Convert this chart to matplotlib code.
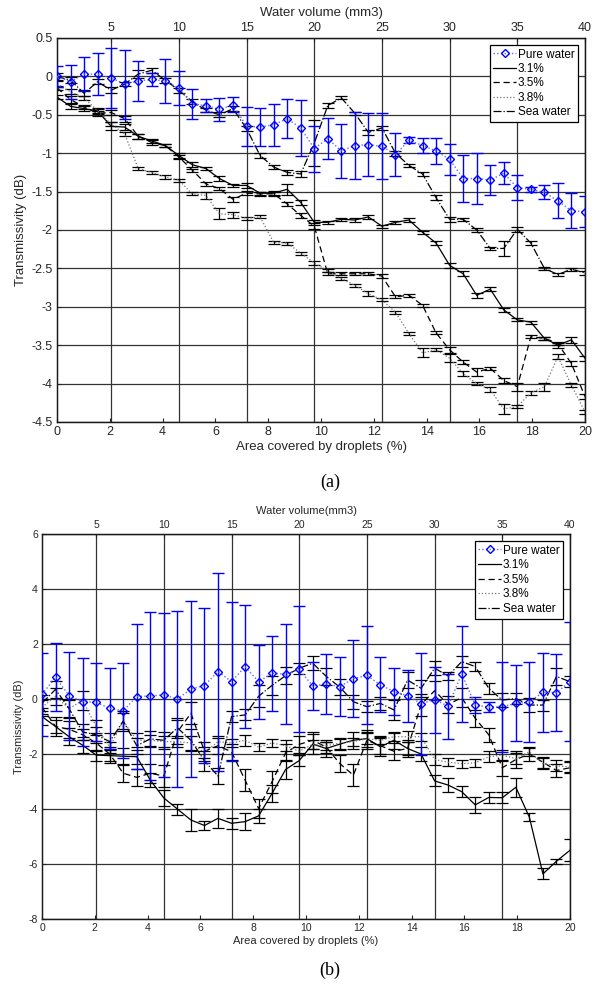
import numpy as np
import matplotlib
matplotlib.use('Agg')
import matplotlib.pyplot as plt

plt.rcParams['font.family'] = ['Liberation Sans', 'DejaVu Sans']
plt.rcParams['axes.unicode_minus'] = False

# water volume (mm3) for each measurement, top axis
vol = list(range(1, 41))

# ---------------- (a) ----------------
pw_a = [0.0, -0.07, 0.03, 0.03, -0.02, -0.1, -0.06, -0.04, -0.06, -0.15,
        -0.36, -0.38, -0.43, -0.37, -0.65, -0.66, -0.63, -0.55, -0.67, -0.94,
        -0.81, -0.97, -0.9, -0.89, -0.91, -1.02, -0.83, -0.9, -0.97, -1.08,
        -1.33, -1.33, -1.35, -1.26, -1.45, -1.47, -1.51, -1.62, -1.75, -1.76]
pw_a_err = [0.14, 0.22, 0.22, 0.27, 0.39, 0.45, 0.26, 0.09, 0.29, 0.22,
            0.2, 0.09, 0.15, 0.1, 0.25, 0.25, 0.27, 0.25, 0.36, 0.3,
            0.27, 0.35, 0.43, 0.41, 0.43, 0.28, 0.04, 0.1, 0.17, 0.2,
            0.31, 0.33, 0.2, 0.14, 0.16, 0.03, 0.09, 0.23, 0.23, 0.2]
s31_a = [-0.27, -0.39, -0.42, -0.45, -0.65, -0.66, -0.78, -0.84, -0.9, -1.03,
         -1.15, -1.2, -1.33, -1.42, -1.42, -1.52, -1.52, -1.47, -1.64, -1.9,
         -1.9, -1.86, -1.87, -1.83, -1.95, -1.9, -1.87, -2.03, -2.17, -2.46,
         -2.57, -2.85, -2.77, -3.04, -3.17, -3.2, -3.41, -3.5, -3.43, -3.67]
s31_a_err = [0.03, 0.03, 0.03, 0.04, 0.05, 0.04, 0.03, 0.03, 0.02, 0.03,
             0.03, 0.02, 0.03, 0.02, 0.03, 0.02, 0.03, 0.07, 0.03, 0.03,
             0.02, 0.02, 0.03, 0.03, 0.02, 0.02, 0.03, 0.02, 0.03, 0.03,
             0.03, 0.03, 0.03, 0.03, 0.02, 0.02, 0.02, 0.03, 0.04, 0.03]
s35_a = [-0.15, -0.3, -0.4, -0.48, -0.47, -0.55, -0.78, -0.86, -0.9, -1.05,
         -1.22, -1.4, -1.46, -1.6, -1.52, -1.53, -1.53, -1.66, -1.81, -1.95,
         -2.57, -2.57, -2.57, -2.57, -2.6, -2.87, -2.85, -2.98, -3.34, -3.56,
         -3.72, -3.85, -3.8, -3.96, -4.04, -3.39, -3.41, -3.48, -3.74, -4.17]
s35_a_err = [0.03, 0.04, 0.03, 0.03, 0.03, 0.04, 0.03, 0.03, 0.02, 0.03,
             0.02, 0.03, 0.02, 0.03, 0.03, 0.03, 0.03, 0.03, 0.03, 0.04,
             0.02, 0.02, 0.02, 0.02, 0.03, 0.02, 0.02, 0.02, 0.02, 0.04,
             0.03, 0.05, 0.02, 0.03, 0.05, 0.02, 0.02, 0.02, 0.03, 0.03]
s38_a = [-0.1, -0.2, -0.28, -0.45, -0.62, -0.75, -1.2, -1.25, -1.31, -1.35,
         -1.53, -1.55, -1.79, -1.8, -1.85, -1.83, -2.16, -2.17, -2.3, -2.43,
         -2.53, -2.63, -2.72, -2.83, -2.91, -3.07, -3.35, -3.6, -3.56, -3.67,
         -3.87, -4.0, -4.08, -4.33, -4.3, -4.12, -4.04, -3.65, -4.02, -4.37]
s38_a_err = [0.04, 0.03, 0.03, 0.03, 0.03, 0.03, 0.02, 0.02, 0.02, 0.02,
             0.02, 0.04, 0.07, 0.04, 0.02, 0.02, 0.02, 0.02, 0.02, 0.02,
             0.02, 0.02, 0.02, 0.03, 0.02, 0.02, 0.02, 0.06, 0.02, 0.05,
             0.03, 0.02, 0.03, 0.06, 0.02, 0.03, 0.05, 0.03, 0.03, 0.03]
sw_a = [0.0, -0.05, -0.22, -0.07, -0.18, -0.1, 0.03, 0.08, -0.05, -0.18,
        -0.33, -0.44, -0.5, -0.42, -0.68, -1.03, -1.18, -1.25, -1.27, -0.87,
        -0.38, -0.28, -0.48, -0.73, -0.67, -1.0, -1.16, -1.27, -1.58, -1.86,
        -1.86, -2.0, -2.24, -2.24, -1.99, -2.17, -2.5, -2.58, -2.51, -2.56]
sw_a_err = [0.05, 0.04, 0.04, 0.03, 0.04, 0.03, 0.05, 0.03, 0.03, 0.03,
            0.03, 0.03, 0.03, 0.03, 0.03, 0.03, 0.03, 0.03, 0.04, 0.3,
            0.03, 0.02, 0.02, 0.03, 0.03, 0.03, 0.02, 0.03, 0.03, 0.03,
            0.02, 0.02, 0.02, 0.1, 0.03, 0.03, 0.02, 0.02, 0.02, 0.02]

# ---------------- (b) ----------------
pw_b = [0.17, 0.79, 0.12, -0.1, -0.12, -0.34, -0.43, 0.09, 0.11, 0.15,
        0.0, 0.36, 0.49, 1.0, 0.63, 1.18, 0.63, 0.94, 0.9, 1.08,
        0.47, 0.55, 0.45, 0.74, 0.86, 0.51, 0.27, 0.12, -0.17, -0.02,
        -0.26, 0.92, -0.22, -0.29, -0.28, -0.16, -0.1, 0.24, 0.23, 0.63]
pw_b_err = [1.52, 1.24, 1.6, 1.6, 1.42, 1.48, 1.73, 2.64, 3.04, 2.98,
            3.19, 3.2, 2.82, 3.6, 2.9, 2.24, 1.34, 1.36, 1.82, 2.29,
            0.87, 1.1, 1.07, 1.39, 1.78, 1.0, 0.84, 0.94, 1.86, 1.2,
            1.18, 1.74, 0.28, 0.17, 1.64, 1.38, 1.46, 1.43, 1.41, 2.17]
s31_b = [-0.64, -1.0, -1.37, -1.68, -2.04, -2.06, -2.08, -2.1, -2.95, -3.6,
         -4.0, -4.4, -4.6, -4.34, -4.52, -4.46, -4.25, -3.43, -2.56, -2.24,
         -1.64, -1.8, -1.64, -1.5, -1.44, -1.74, -1.5, -1.8, -2.0, -2.98,
         -3.13, -3.37, -3.85, -3.58, -3.59, -3.21, -4.3, -6.36, -5.9, -5.5]
s31_b_err = [0.3, 0.25, 0.3, 0.3, 0.2, 0.25, 0.3, 0.25, 0.25, 0.3,
             0.2, 0.4, 0.15, 0.35, 0.2, 0.3, 0.25, 0.3, 0.35, 0.2,
             0.35, 0.3, 0.2, 0.3, 0.3, 0.35, 0.3, 0.3, 0.25, 0.2,
             0.25, 0.2, 0.3, 0.2, 0.2, 0.35, 0.15, 0.2, 0.1, 0.4]
s35_b = [-0.3, -1.0, -1.1, -1.3, -1.6, -2.0, -2.7, -2.85, -2.7, -2.8,
         -1.2, -0.52, -1.9, -1.7, -1.92, -2.95, -3.98, -3.0, -1.95, -1.65,
         -1.5, -1.75, -2.35, -2.77, -1.5, -1.7, -1.9, -1.8, -0.2, 0.3,
         -0.2, 0.05, -0.7, -1.3, -2.5, -2.2, -2.0, -2.3, -2.6, -2.5]
s35_b_err = [0.3, 0.35, 0.3, 0.2, 0.3, 0.25, 0.3, 0.3, 0.35, 0.4,
             0.45, 0.4, 0.35, 0.3, 0.3, 0.4, 0.35, 0.4, 0.3, 0.3,
             0.3, 0.2, 0.3, 0.4, 0.3, 0.3, 0.3, 0.25, 0.4, 0.35,
             0.3, 0.35, 0.3, 0.25, 0.3, 0.3, 0.25, 0.2, 0.25, 0.2]
s38_b = [-0.3, 0.1, -0.35, -0.05, -1.0, -1.75, -0.8, -1.5, -1.5, -1.55,
         -1.55, -1.6, -1.95, -1.55, -1.6, -1.5, -1.75, -1.6, -1.7, -1.9,
         -1.65, -1.7, -1.6, -1.55, -1.45, -1.5, -1.37, -1.37, -1.37, -2.2,
         -2.3, -2.35, -2.32, -2.1, -2.04, -2.17, -1.92, -2.35, -2.43, -2.47]
s38_b_err = [0.25, 0.3, 0.3, 0.35, 0.25, 0.2, 0.3, 0.25, 0.2, 0.2,
             0.2, 0.25, 0.2, 0.2, 0.15, 0.2, 0.15, 0.15, 0.2, 0.15,
             0.15, 0.15, 0.2, 0.15, 0.2, 0.15, 0.15, 0.2, 0.15, 0.2,
             0.15, 0.15, 0.15, 0.2, 0.2, 0.2, 0.15, 0.2, 0.2, 0.2]
sw_b = [-0.15, 0.35, -0.35, -1.2, -1.3, -1.55, -0.8, -1.7, -1.45, -1.5,
        -1.05, -1.5, -2.25, -2.8, -0.64, -0.58, 0.1, 0.5, 0.85, 1.12,
        1.3, 0.82, 0.43, -0.1, -0.28, -0.16, -0.4, 0.69, 0.39, 1.12,
        0.84, 1.36, 1.18, 0.39, -0.04, 0.02, -0.22, -0.22, 0.82, 0.63]
sw_b_err = [0.3, 0.3, 0.35, 0.3, 0.3, 0.3, 0.35, 0.3, 0.3, 0.3,
            0.35, 0.4, 0.35, 0.3, 0.2, 0.2, 0.4, 0.35, 0.3, 0.2,
            0.25, 0.3, 0.3, 0.25, 0.2, 0.25, 0.35, 0.3, 0.3, 0.25,
            0.15, 0.2, 0.15, 0.2, 0.25, 0.2, 0.25, 0.2, 0.3, 0.2]

labels = ['Pure water', '3.1%', '3.5%', '3.8%', 'Sea water']


def panel(rect, series, ylim, yticks, toplabel, fs, lfs, lspace):
    ax = fig.add_axes(rect)
    ax.set_xlim(0, 20)
    ax.set_ylim(*ylim)
    ax.set_xticks(range(0, 21, 2))
    ax.set_yticks(yticks)
    ax.set_yticklabels([('%g' % t) for t in yticks])
    ax.yaxis.grid(True, color='0.2', lw=0.9)
    ax.tick_params(direction='in', length=3, labelsize=fs, colors='0.15', pad=3)
    ax.set_xlabel('Area covered by droplets (%)', fontsize=fs + 0.5, color='0.15', labelpad=2)
    ax.set_ylabel('Transmissivity (dB)', fontsize=fs + 0.5, color='0.15', labelpad=3)

    axt = ax.twiny()
    axt.set_xlim(1, 40)
    axt.set_xticks(range(5, 41, 5))
    axt.xaxis.grid(True, color='0.2', lw=0.9)
    axt.tick_params(direction='in', length=3, labelsize=fs, colors='0.15', pad=3)
    axt.set_xlabel(toplabel, fontsize=fs + 0.5, color='0.15', labelpad=4)
    for sp in list(ax.spines.values()) + list(axt.spines.values()):
        sp.set_color('0.1')
        sp.set_linewidth(0.9)

    pw, pw_err = series[0]
    axt.errorbar(vol, pw, yerr=pw_err, fmt='none', ecolor='#0000ff',
                 elinewidth=1.0, capsize=4, capthick=1.0, zorder=3)
    handles = []
    h, = axt.plot(vol, pw, ls=':', color='#5a6cff', lw=1.0, marker='D',
                  ms=4, mfc='none', mec='#0000ff', mew=1.0, zorder=4)
    handles.append(h)
    styles = [('-', 'black'), ((0, (5, 3)), 'black'), (':', '0.45'), ('-.', 'black')]
    for (vals, errs), (ls, col) in zip(series[1:], styles):
        axt.errorbar(vol, vals, yerr=errs, fmt='none', ecolor='black',
                     elinewidth=0.9, capsize=4, capthick=0.9, zorder=2)
        h, = axt.plot(vol, vals, ls=ls, color=col, lw=0.9, zorder=2)
        handles.append(h)
    leg = axt.legend(handles, labels, loc='upper right', fontsize=lfs, frameon=True,
                     fancybox=False, edgecolor='black', framealpha=1,
                     handlelength=1.9, handletextpad=0.15, labelspacing=lspace,
                     borderpad=0.3, borderaxespad=0.6)
    leg.get_frame().set_linewidth(0.9)
    return ax


fig = plt.figure(figsize=(6.06, 9.88), dpi=100)

panel([57 / 606, 1 - 422 / 988, 528 / 606, 384 / 988],
      [(pw_a, pw_a_err), (s31_a, s31_a_err), (s35_a, s35_a_err),
       (s38_a, s38_a_err), (sw_a, sw_a_err)],
      (-4.5, 0.5), [0.5, 0, -0.5, -1, -1.5, -2, -2.5, -3, -3.5, -4, -4.5],
      'Water volume (mm3)', 9, 8.5, 0.2)

panel([42 / 606, 1 - 919 / 988, 528 / 606, 385 / 988],
      [(pw_b, pw_b_err), (s31_b, s31_b_err), (s35_b, s35_b_err),
       (s38_b, s38_b_err), (sw_b, sw_b_err)],
      (-8, 6), [-8, -6, -4, -2, 0, 2, 4, 6],
      'Water volume(mm3)', 7.5, 8.5, 0.22)

fig.text(330 / 606, 1 - 482 / 988, '(a)', ha='center', va='center',
         fontsize=13, family='Liberation Serif')
fig.text(330 / 606, 1 - 970 / 988, '(b)', ha='center', va='center',
         fontsize=13, family='Liberation Serif')

fig.savefig('out.png', dpi=100)
